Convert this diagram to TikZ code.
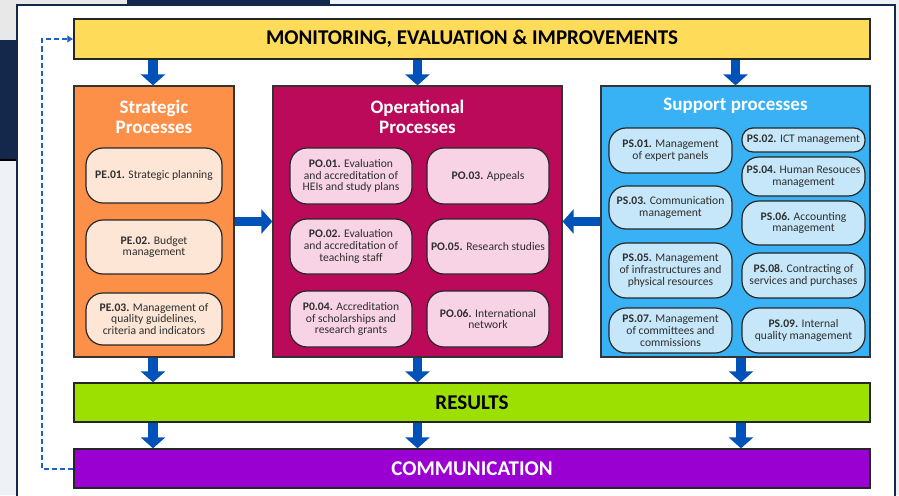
\documentclass[tikz,border=0pt]{standalone}
\usepackage{fontspec}
\setmainfont{Carlito}
\usetikzlibrary{arrows.meta}
\definecolor{bgl}{HTML}{EEF2F7}
\definecolor{bgg}{HTML}{E8E8E8}
\definecolor{navy}{HTML}{14284B}
\definecolor{monc}{HTML}{FEDC5A}
\definecolor{resc}{HTML}{9BE000}
\definecolor{comc}{HTML}{9B00D3}
\definecolor{strc}{HTML}{FD9049}
\definecolor{opc}{HTML}{BC0A5B}
\definecolor{supc}{HTML}{38B2F4}
\definecolor{strs}{HTML}{FDE6D6}
\definecolor{ops}{HTML}{F8D3E5}
\definecolor{sups}{HTML}{C6E7F9}
\definecolor{arrc}{HTML}{0052B8}
\definecolor{dashc}{HTML}{1F5FC8}
\definecolor{txt}{HTML}{2E2E2E}
\tikzset{
  bar/.style={draw=black!85, line width=1.3pt, minimum width=796pt, inner sep=0pt,
    font=\fontsize{21}{24}\selectfont\bfseries},
  bigbox/.style={draw=black!80, line width=1.3pt, minimum height=271pt, inner sep=0pt},
  title/.style={text=white, align=center, font=\fontsize{19}{20}\selectfont\bfseries},
  sub/.style={draw=black!85, line width=1.2pt, rounded corners=17pt, inner sep=0pt,
    align=center, text=txt, font=\fontsize{11.6}{11.8}\selectfont},
  blockarrow/.style={draw=arrc, line width=9.5pt, -{Triangle[width=24pt,length=11pt]}},
  dashline/.style={draw=dashc, line width=2pt, dash pattern=on 5pt off 3pt,
    -{Latex[length=6pt,width=8pt]}},
}
\begin{document}
\begin{tikzpicture}[x=1pt,y=-1pt]
\useasboundingbox (0,0) rectangle (899,495);
% background
\fill[bgl] (0,0) rectangle (899,495);
\fill[navy] (0,0) rectangle (330,160);
\fill[bgg] (0,0) rectangle (127,40);
\draw[black, line width=1.5pt] (0,160) -- (17,160);
\filldraw[fill=white, draw=navy, line width=1.5pt] (17,5) rectangle (895,505);

% bars
\node[bar, fill=monc, minimum height=40pt] (mon) at (472,39) {MONITORING, EVALUATION \& IMPROVEMENTS};
\node[bar, fill=resc, minimum height=39pt] (res) at (472,402.5) {RESULTS};
\node[bar, fill=comc, minimum height=39pt, text=white] (comm) at (472,468.5) {COMMUNICATION};

% big boxes
\node[bigbox, fill=strc, minimum width=160pt] (strat) at (154,221.5) {};
\node[bigbox, fill=opc, minimum width=289pt] (oper) at (417.5,221.5) {};
\node[bigbox, fill=supc, minimum width=269pt] (supp) at (735.5,221.5) {};

\node[title] (strt) at (154,117) {Strategic\\Processes};
\node[title] (opt) at (417.5,117) {Operational\\Processes};
\node[title] (supt) at (735.5,106) {Support processes};

% strategic sub-boxes
\node[sub, fill=strs, minimum width=136pt, minimum height=55pt] (pe1) at (154,175.5) {\textbf{PE.01.} Strategic planning};
\node[sub, fill=strs, minimum width=136pt, minimum height=54pt] (pe2) at (154,247) {\textbf{PE.02.} Budget\\management};
\node[sub, fill=strs, minimum width=136pt, minimum height=52pt] (pe3) at (154,319) {\textbf{PE.03.} Management of\\quality guidelines,\\criteria and indicators};

% operational sub-boxes
\node[sub, fill=ops, minimum width=122pt, minimum height=56pt] (po1) at (351,176) {\textbf{PO.01.} Evaluation\\and accreditation of\\HEIs and study plans};
\node[sub, fill=ops, minimum width=122pt, minimum height=55pt] (po2) at (351,246.5) {\textbf{PO.02.} Evaluation\\and accreditation of\\teaching staff};
\node[sub, fill=ops, minimum width=122pt, minimum height=56pt] (po4) at (351,319) {\textbf{P0.04.} Accreditation\\of scholarships and\\research grants};
\node[sub, fill=ops, minimum width=122pt, minimum height=56pt] (po3) at (488,176) {\textbf{PO.03.} Appeals};
\node[sub, fill=ops, minimum width=122pt, minimum height=55pt] (po5) at (488,246.5) {\textbf{PO.05.} Research studies};
\node[sub, fill=ops, minimum width=122pt, minimum height=56pt] (po6) at (488,319) {\textbf{PO.06.} International\\network};

% support sub-boxes
\node[sub, fill=sups, minimum width=123pt, minimum height=45pt] (ps1) at (670.5,150.5) {\textbf{PS.01.} Management\\of expert panels};
\node[sub, fill=sups, minimum width=123pt, minimum height=43pt] (ps3) at (670.5,207.5) {\textbf{PS.03.} Communication\\management};
\node[sub, fill=sups, minimum width=123pt, minimum height=55pt] (ps5) at (670.5,270.5) {\textbf{PS.05.} Management\\of infrastructures and\\physical resources};
\node[sub, fill=sups, minimum width=123pt, minimum height=45pt] (ps7) at (670.5,330.5) {\textbf{PS.07.} Management\\of committees and\\commissions};
\node[sub, fill=sups, minimum width=123pt, minimum height=24pt, rounded corners=11pt] (ps2) at (803.5,140) {\textbf{PS.02.} ICT management};
\node[sub, fill=sups, minimum width=123pt, minimum height=39pt] (ps4) at (803.5,176.5) {\textbf{PS.04.} Human Resouces\\management};
\node[sub, fill=sups, minimum width=123pt, minimum height=44pt] (ps6) at (803.5,223) {\textbf{PS.06.} Accounting\\management};
\node[sub, fill=sups, minimum width=123pt, minimum height=45pt] (ps8) at (803.5,275.5) {\textbf{PS.08.} Contracting of\\services and purchases};
\node[sub, fill=sups, minimum width=123pt, minimum height=45pt] (ps9) at (803.5,330.5) {\textbf{PS.09.} Internal\\quality management};

% block arrows
\draw[blockarrow] ([xshift=-1pt]strat.north |- mon.south) -- ([xshift=-1pt]strat.north);
\draw[blockarrow] (oper.north |- mon.south) -- (oper.north);
\draw[blockarrow] (supp.north |- mon.south) -- (supp.north);
\draw[blockarrow] ([xshift=-1pt]strat.south) -- ([xshift=-1pt]strat.south |- res.north);
\draw[blockarrow] (oper.south) -- (oper.south |- res.north);
\draw[blockarrow] ([xshift=5.5pt]supp.south) -- ([xshift=5.5pt]supp.south |- res.north);
\draw[blockarrow] ([xshift=-1pt]strat.south |- res.south) -- ([xshift=-1pt]strat.south |- comm.north);
\draw[blockarrow] (oper.south |- res.south) -- (oper.south |- comm.north);
\draw[blockarrow] ([xshift=5.5pt]supp.south |- res.south) -- ([xshift=5.5pt]supp.south |- comm.north);
\draw[blockarrow] (strat.east) -- (oper.west);
\draw[blockarrow] (supp.west) -- (oper.east);

% feedback dashed line
\draw[dashline] (comm.west) -- ++(-31,0) |- (mon.west);
\end{tikzpicture}
\end{document}
